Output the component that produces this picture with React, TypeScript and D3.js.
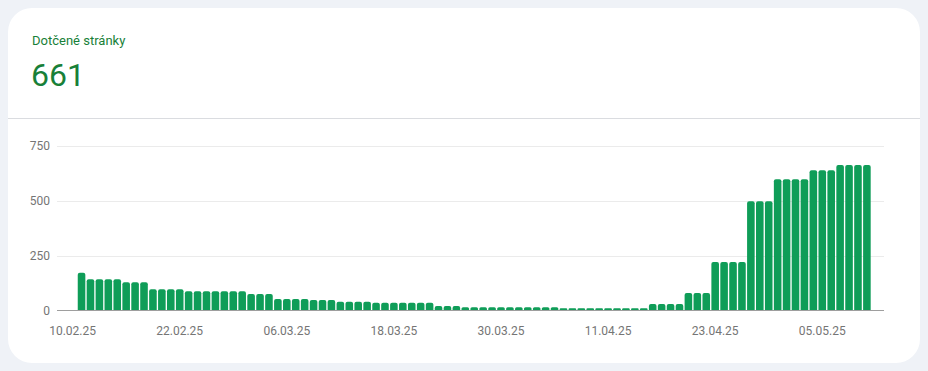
import * as d3 from "d3";

// daily values, 11.02.25 .. 10.05.25
const values = [
  172, 142, 142, 142, 142, 128, 128, 128, 97, 97,
  97, 97, 88, 88, 88, 88, 88, 88, 88, 75,
  75, 75, 52, 52, 52, 52, 48, 48, 48, 40,
  40, 40, 40, 35, 35, 35, 35, 35, 35, 35,
  20, 20, 20, 15, 15, 15, 15, 15, 15, 15,
  15, 15, 15, 15, 10, 10, 10, 10, 10, 10,
  10, 10, 10, 10, 30, 30, 30, 30, 80, 80,
  80, 220, 220, 220, 220, 497, 497, 497, 597, 597,
  597, 597, 638, 638, 638, 661, 661, 661, 661,
];
const firstDay = new Date(Date.UTC(2025, 1, 11));
const days = values.map((_, i) => d3.utcDay.offset(firstDay, i));

const xTickLabels = ["10.02.25", "22.02.25", "06.03.25", "18.03.25", "30.03.25", "11.04.25", "23.04.25", "05.05.25"];
const xTicks = xTickLabels.map((s) => {
  const [d, m, y] = s.split(".").map(Number);
  return new Date(Date.UTC(2000 + y, m - 1, d));
});
const yTicks = [0, 250, 500, 750];

const title = "Dotčené stránky";
const total = "661";

const W = 928;
const H = 371;
const green = "#0f9d58";
const darkGreen = "#188038";

export default function App() {
  const x = d3
    .scaleUtc()
    .domain([new Date(Date.UTC(2025, 1, 8, 6)), new Date(Date.UTC(2025, 4, 11, 22))])
    .range([57, 884]);
  const y = d3.scaleLinear().domain([0, 750]).range([310.5, 145.5]);

  const step = x(days[1]) - x(days[0]);
  const bw = step * 0.85;
  const r = 2;

  const barPath = (d: Date, v: number) => {
    const x0 = x(d) - bw / 2;
    const x1 = x0 + bw;
    const y0 = y(0);
    const y1 = y(v);
    const rr = Math.min(r, (y0 - y1) / 2);
    const p = d3.path();
    p.moveTo(x0, y0);
    p.lineTo(x0, y1 + rr);
    p.quadraticCurveTo(x0, y1, x0 + rr, y1);
    p.lineTo(x1 - rr, y1);
    p.quadraticCurveTo(x1, y1, x1, y1 + rr);
    p.lineTo(x1, y0);
    p.closePath();
    return p.toString();
  };

  return (
    <svg
      width={W}
      height={H}
      style={{ position: "absolute", left: 0, top: 0, fontFamily: "Roboto, sans-serif" }}
    >
      <rect width={W} height={H} fill="#eff2f7" />
      <rect x={8} y={8} width={912} height={355} rx={24} fill="#ffffff" />

      <text x={32} y={45} fontSize={13} fill={darkGreen}>
        {title}
      </text>
      <text x={31} y={86} fontSize={32} fill={darkGreen}>
        {total}
      </text>
      <line x1={8} x2={920} y1={118.5} y2={118.5} stroke="#dadce0" />

      {/* grid + y labels */}
      {yTicks.map((t) => (
        <g key={t}>
          {t > 0 && (
            <line x1={57} x2={884} y1={Math.round(y(t)) + 0.5} y2={Math.round(y(t)) + 0.5} stroke="#ebebeb" />
          )}
          <text x={50} y={y(t)} dy="0.35em" textAnchor="end" fontSize={12} fill="#757575">
            {t}
          </text>
        </g>
      ))}

      {/* bars */}
      {days.map((d, i) => (
        <path key={i} d={barPath(d, values[i])} fill={green} />
      ))}

      <line x1={57} x2={884} y1={310.5} y2={310.5} stroke="#9e9e9e" />

      {/* x labels */}
      {xTicks.map((d, i) => (
        <text key={i} x={x(d)} y={335} textAnchor="middle" fontSize={12} fill="#757575">
          {xTickLabels[i]}
        </text>
      ))}
    </svg>
  );
}
